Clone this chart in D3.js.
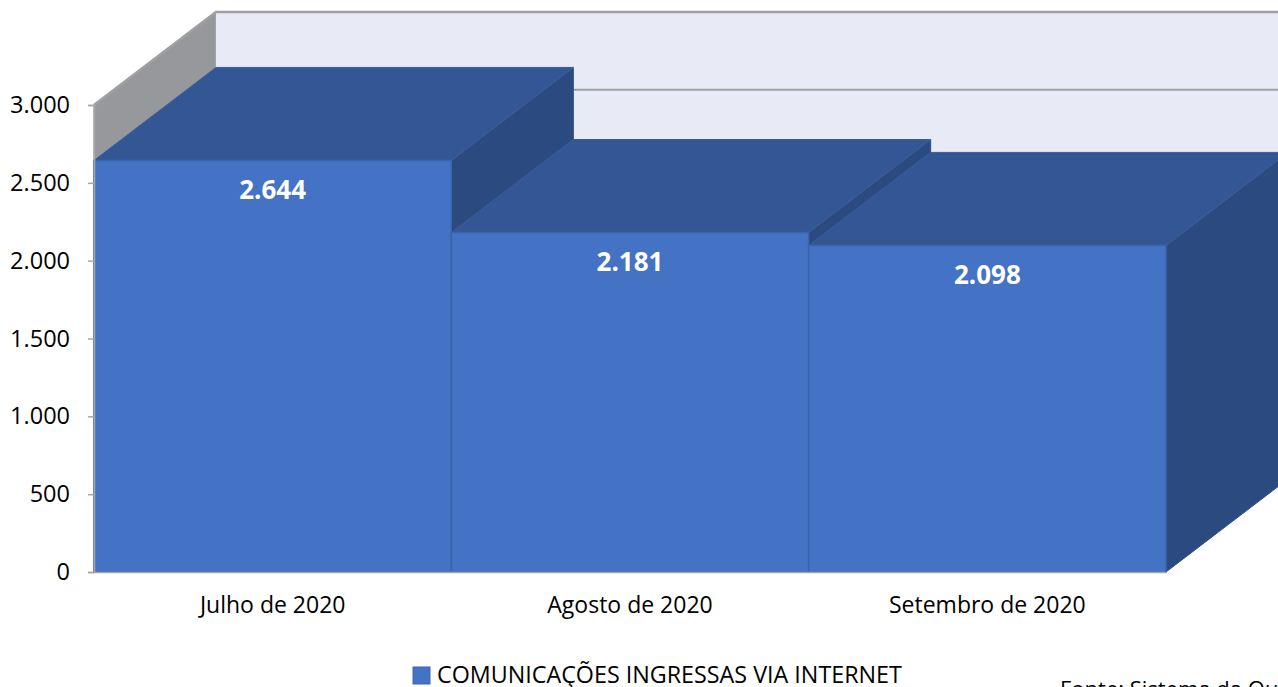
<!DOCTYPE html>
<html>
<head>
<meta charset="utf-8">
<script src="https://cdn.jsdelivr.net/npm/d3@7"></script>
<style>
  body { margin: 0; background: #ffffff; overflow: hidden; }
  svg { display: block; font-family: "Open Sans", sans-serif; }
</style>
</head>
<body>
<div id="chart"></div>
<script>
// data
const categories = ["Julho de 2020", "Agosto de 2020", "Setembro de 2020"];
const values = [2644, 2181, 2098];
const yTicks = [0, 500, 1000, 1500, 2000, 2500, 3000];
const seriesName = "COMUNICAÇÕES INGRESSAS VIA INTERNET";
const sourceText = "Fonte: Sistema da Ouvidoria";

const width = 1278, height = 687;
const depth = { dx: 122, dy: -93 };

const svg = d3.select("#chart").append("svg")
  .attr("width", width)
  .attr("height", height);

const x = d3.scaleBand().domain(categories).range([94, 1166]).padding(0);
const y = d3.scaleLinear().domain([0, 3000]).range([572, 105]);

const fmt = d => d3.format(",")(d).replace(/,/g, ".");
const pts = arr => arr.map(p => p.join(",")).join(" ");

// walls
const x0 = x.range()[0], x1 = x.range()[1];
const yTop = y(3000), yBase = y(0);

// left (side) wall
svg.append("polygon")
  .attr("points", pts([[x0, yTop], [x0 + depth.dx, yTop + depth.dy], [x0 + depth.dx, yBase + depth.dy], [x0, yBase]]))
  .attr("fill", "#97989c")
  .attr("stroke", "#a6a6a6")
  .attr("stroke-width", 1.5);

// back wall
svg.append("rect")
  .attr("x", x0 + depth.dx)
  .attr("y", yTop + depth.dy)
  .attr("width", x1 - x0 + 10)
  .attr("height", yBase - yTop)
  .attr("fill", "#e8eaf6");

// gridlines on both walls
yTicks.forEach(t => {
  svg.append("polyline")
    .attr("points", pts([[x0, y(t)], [x0 + depth.dx, y(t) + depth.dy], [x1 + depth.dx + 10, y(t) + depth.dy]]))
    .attr("fill", "none")
    .attr("stroke", "#a0a0a0")
    .attr("stroke-width", t === 3000 ? 2.5 : 2);
});

// bars: side, top, front in drawing order
const bw = x.bandwidth();
categories.forEach((c, i) => {
  const bx = x(c), by = y(values[i]);
  const g = svg.append("g");
  g.append("polygon")
    .attr("points", pts([[bx + bw, by], [bx + bw + depth.dx, by + depth.dy], [bx + bw + depth.dx, yBase + depth.dy], [bx + bw, yBase]]))
    .attr("fill", "#2b4a7f")
    .attr("stroke", "#2e4f86")
    .attr("stroke-width", 1);
  g.append("polygon")
    .attr("points", pts([[bx, by], [bx + bw, by], [bx + bw + depth.dx, by + depth.dy], [bx + depth.dx, by + depth.dy]]))
    .attr("fill", "#335795")
    .attr("stroke", "#3a5e9c")
    .attr("stroke-width", 1);
  g.append("rect")
    .attr("x", bx)
    .attr("y", by)
    .attr("width", bw)
    .attr("height", yBase - by)
    .attr("fill", "#4472c4")
    .attr("stroke", "#3b64ad")
    .attr("stroke-width", 1.5);
  g.append("text")
    .attr("x", bx + bw / 2)
    .attr("y", by + 39)
    .attr("text-anchor", "middle")
    .attr("fill", "#ffffff")
    .style("font-size", "26px")
    .style("font-weight", "bold")
    .text(fmt(values[i]));
});

// axes
const yAxis = svg.append("g")
  .attr("transform", "translate(" + x0 + ",0)")
  .call(d3.axisLeft(y).tickValues(yTicks).tickFormat(fmt).tickSize(6).tickPadding(18));
yAxis.select(".domain").attr("stroke", "#a6a6a6").attr("stroke-width", 1.5);
yAxis.selectAll(".tick line").attr("stroke", "#a6a6a6").attr("stroke-width", 1.5);
yAxis.selectAll(".tick text")
  .attr("fill", "#000000")
  .style("font-size", "23.5px")
  .style("font-family", "Open Sans, sans-serif");

const xAxis = svg.append("g")
  .attr("transform", "translate(0," + yBase + ")")
  .call(d3.axisBottom(x).tickSize(0).tickPadding(25));
xAxis.select(".domain").attr("stroke", "#a6a6a6").attr("stroke-width", 1.5);
xAxis.selectAll(".tick text")
  .attr("fill", "#000000")
  .style("font-size", "23px")
  .style("font-family", "Open Sans, sans-serif");

// legend
const legend = svg.append("g").attr("transform", "translate(413,667)");
legend.append("rect")
  .attr("width", 17).attr("height", 17)
  .attr("fill", "#4472c4")
  .attr("stroke", "#3b64ad");
legend.append("text")
  .attr("x", 24).attr("y", 16)
  .attr("fill", "#000000")
  .style("font-size", "23.3px")
  .text(seriesName);

// source note (cut off at the bottom edge, as in the original)
svg.append("text")
  .attr("x", 1060).attr("y", 697)
  .attr("fill", "#000000")
  .style("font-size", "22px")
  .text(sourceText);
</script>
</body>
</html>
